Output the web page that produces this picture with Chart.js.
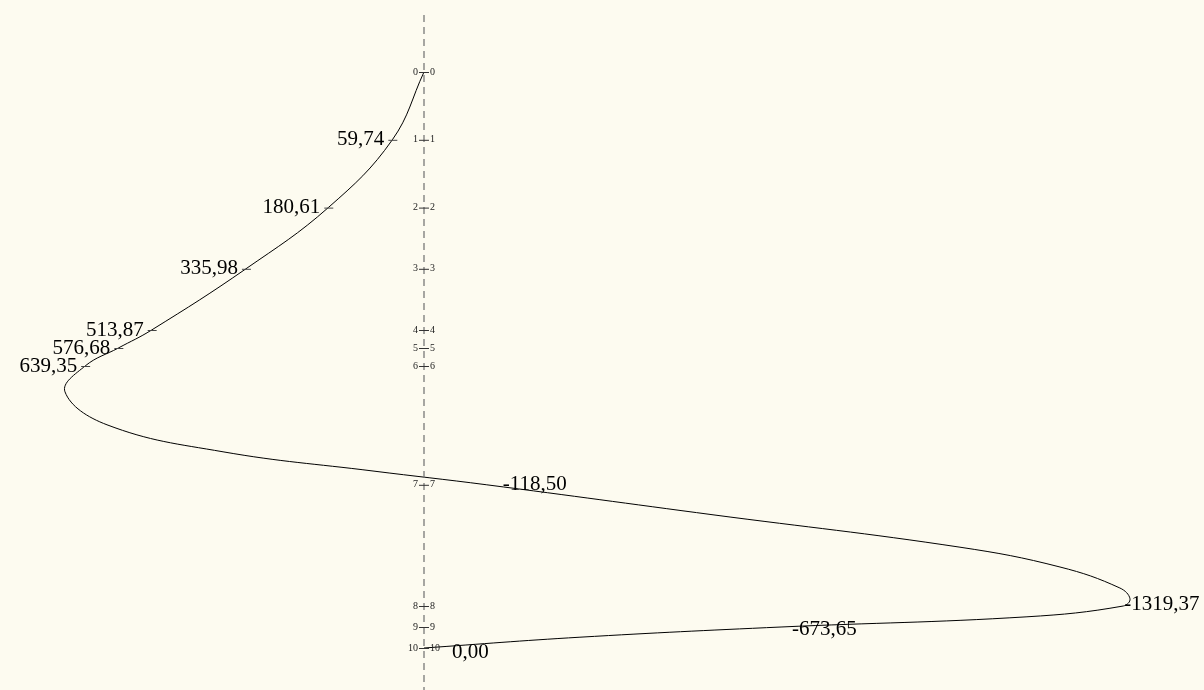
<!DOCTYPE html>
<html>
<head>
<meta charset="utf-8">
<script src="https://cdn.jsdelivr.net/npm/chart.js@4/dist/chart.umd.min.js"></script>
<style>
  html, body { margin: 0; padding: 0; background: #fdfbf0; overflow: hidden; }
  canvas { display: block; }
</style>
</head>
<body>
<canvas id="epure" width="1204" height="690"></canvas>
<script>
// Sections along the member
const sections = ['0', '1', '2', '3', '4', '5', '6', '7', '8', '9', '10'];
// Section coordinates along the member
const sectionPos = [0, 1.13, 2.26, 3.28, 4.30, 4.60, 4.90, 6.88, 8.90, 9.25, 9.60];
// Bending moment at each section
const moments = [0, 59.74, 180.61, 335.98, 513.87, 576.68, 639.35, -118.50, -1319.37, -673.65, 0.00];
// Extra points of the diagram outline between the sections
const outlinePos = [5.33, 5.88, 6.33, 6.65, 7.38, 7.92, 8.25, 8.60, 8.78, 9.08, 9.42];
const outlineMoment = [677.4, 598.1, 379.2, 96.2, -545.3, -1011.3, -1200.0, -1313.0, -1332.1, -1137.7, -294.3];

const fmt = v => v.toFixed(2).replace('.', ',');

// outline = section values + intermediate points, ordered along the member
const outline = sectionPos.map((p, i) => ({ x: moments[i], y: p }))
  .concat(outlinePos.map((p, i) => ({ x: outlineMoment[i], y: p })))
  .sort((a, b) => a.y - b.y);

// text offsets (px) for labels on the right-hand side of the axis
const rightShift = { 7: [16, 0], 8: [1, -2], 9: [11, 2], 10: [28, 4] };

const sectionMarks = {
  id: 'sectionMarks',
  afterDatasetsDraw(chart) {
    const { ctx, scales: { x, y } } = chart;
    const x0 = x.getPixelForValue(0);
    ctx.save();
    ctx.textBaseline = 'middle';
    sections.forEach((name, i) => {
      const py = y.getPixelForValue(sectionPos[i]);
      // section mark on the axis
      ctx.strokeStyle = '#333';
      ctx.lineWidth = 1;
      ctx.beginPath();
      ctx.moveTo(x0 - 5, py + 0.5);
      ctx.lineTo(x0 + 5, py + 0.5);
      ctx.stroke();
      ctx.fillStyle = '#222';
      ctx.font = '10px "Liberation Serif"';
      ctx.textAlign = 'right';
      ctx.fillText(name, x0 - 6, py);
      ctx.textAlign = 'left';
      ctx.fillText(name, x0 + 6, py);

      // moment value (the start section carries no value label)
      if (i === 0) return;
      const v = moments[i];
      const px = x.getPixelForValue(v);
      ctx.font = '21px "Liberation Serif"';
      ctx.fillStyle = '#000';
      if (v > 0) {
        ctx.strokeStyle = '#444';
        ctx.beginPath();
        ctx.moveTo(px - 4, py + 0.5);
        ctx.lineTo(px + 5, py + 0.5);
        ctx.stroke();
        ctx.textAlign = 'right';
        ctx.fillText(fmt(v), px - 8, py);
      } else {
        const [dx, dy] = rightShift[i] || [8, 0];
        ctx.textAlign = 'left';
        ctx.fillText(fmt(v), px + dx, py + dy);
      }
    });
    ctx.restore();
  }
};

new Chart(document.getElementById('epure'), {
  type: 'scatter',
  data: {
    datasets: [
      {
        data: [{ x: 0, y: -0.95 }, { x: 0, y: 10.3 }],
        showLine: true,
        borderColor: '#6e6e6e',
        borderWidth: 1.2,
        borderDash: [7, 5],
        pointRadius: 0
      },
      {
        data: outline,
        showLine: true,
        borderColor: '#000',
        borderWidth: 1,
        tension: 0.4,
        pointRadius: 0
      }
    ]
  },
  options: {
    responsive: false,
    animation: false,
    layout: { padding: 0 },
    plugins: { legend: { display: false }, tooltip: { enabled: false } },
    scales: {
      x: { type: 'linear', display: false, reverse: true, min: -1471.7, max: 800 },
      y: { type: 'linear', display: false, reverse: true, min: -1.2, max: 10.3 }
    }
  },
  plugins: [sectionMarks]
});
</script>
</body>
</html>
